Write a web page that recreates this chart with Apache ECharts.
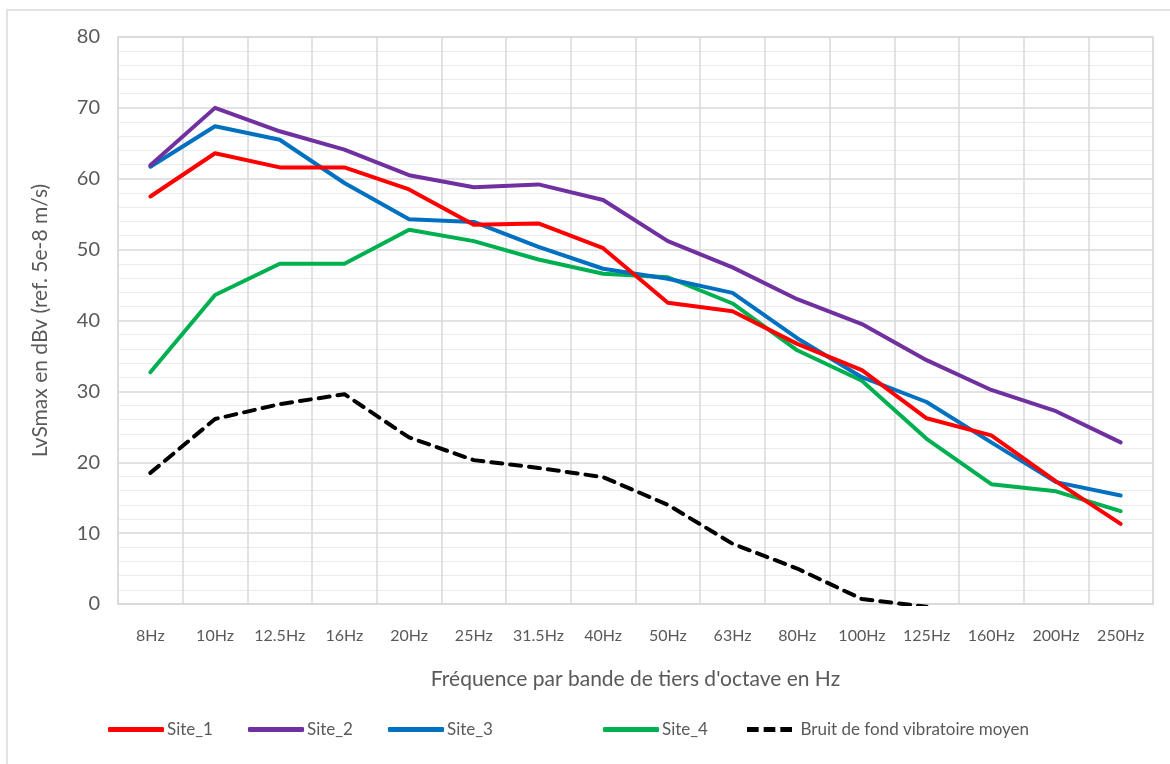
<!DOCTYPE html>
<html><head><meta charset="utf-8">
<script src="https://cdn.jsdelivr.net/npm/echarts@6/dist/echarts.min.js"></script>
<style>html,body{margin:0;padding:0;background:#fff}#c{width:1170px;height:764px}</style>
</head><body><div id="c"></div>
<script>
const categories = ["8Hz","10Hz","12.5Hz","16Hz","20Hz","25Hz","31.5Hz","40Hz","50Hz","63Hz","80Hz","100Hz","125Hz","160Hz","200Hz","250Hz"];
const site1 = [57.5,63.6,61.6,61.6,58.5,53.5,53.7,50.2,42.5,41.3,36.7,33.0,26.2,23.8,17.3,11.3];
const site2 = [61.9,70.0,66.7,64.1,60.5,58.8,59.2,57.0,51.2,47.5,43.0,39.5,34.4,30.2,27.2,22.8];
const site3 = [61.7,67.4,65.5,59.4,54.3,53.9,50.4,47.3,45.9,43.9,37.5,32.0,28.5,22.8,17.2,15.3];
const site4 = [32.7,43.6,48.0,48.0,52.8,51.2,48.6,46.6,46.1,42.4,35.8,31.5,23.3,16.9,15.9,13.1];
const bruit = [18.5,26.1,28.2,29.6,23.5,20.3,19.2,17.9,14.0,8.5,5.0,0.7,-0.4,null,null,null];
const seriesNames = ["Site_1","Site_2","Site_3","Site_4","Bruit de fond vibratoire moyen"];
const yTicks = {min:0,max:80,interval:10};

const FONT = "Lato";
const TXT = "#595959";
const colors = ["#FF0000","#7030A0","#0070C0","#00B050","#000000"];
const allData = [site1,site2,site3,site4,bruit];
const legendLeft = [103,243,383,598,742];

const chart = echarts.init(document.getElementById('c'));
const series = allData.map((d,i)=>({
  name: seriesNames[i], type:'line', data:d, symbol:'none', smooth:false,
  lineStyle:{color:colors[i], width:4, type: i===4?[11,8]:'solid', cap:'round', join:'round'},
  itemStyle:{color:colors[i]}, z: i===4?5:(i===0?4:3-i+1),
  clip:true
}));
chart.setOption({
  animation:false,
  textStyle:{fontFamily:FONT},
  graphic:[{type:'rect',shape:{x:7,y:10,width:1200,height:800},style:{fill:'none',stroke:'#d9d9d9',lineWidth:1.5},silent:true}],
  grid:{left:118,right:17,top:37,bottom:160,show:true,borderColor:'#d9d9d9',borderWidth:1.5},
  legend: seriesNames.map((n,i)=>({
    data:[{name:n, icon: i===4?'path://M0,0 L14,0 L14,6 L0,6 Z M20,0 L34,0 L34,6 L20,6 Z M40,0 L54,0 L54,6 L40,6 Z':'roundRect'}],
    left:legendLeft[i], top:716, itemWidth:56, itemHeight:5, itemGap:6,
    textStyle:{color:TXT,fontSize:17,fontFamily:FONT,padding:[0,0,0,-2]}
  })),
  xAxis:{type:'category',data:categories,boundaryGap:true,
    name:"Fréquence par bande de tiers d'octave en Hz",nameLocation:'middle',nameGap:65,
    nameTextStyle:{color:TXT,fontSize:21,fontFamily:FONT},
    axisLine:{show:true,lineStyle:{color:'#d9d9d9',width:1.5}},axisTick:{show:false},
    axisLabel:{color:TXT,fontSize:16,fontFamily:FONT,margin:24,interval:0},
    splitLine:{show:true,lineStyle:{color:'#d9d9d9',width:1.5}}
  },
  yAxis:{type:'value',min:yTicks.min,max:yTicks.max,interval:yTicks.interval,
    name:"LvSmax en dBv (ref. 5e-8 m/s)",nameLocation:'middle',nameGap:67,nameRotate:90,
    nameTextStyle:{color:TXT,fontSize:21,fontFamily:FONT},
    axisLine:{show:false},axisTick:{show:false},
    axisLabel:{color:TXT,fontSize:20,fontFamily:FONT,margin:18},
    splitLine:{show:true,lineStyle:{color:'#d9d9d9',width:1.5}},
    minorTick:{show:false,splitNumber:5},
    minorSplitLine:{show:true,lineStyle:{color:'#ebebeb',width:1}}
  },
  series:series
});
</script></body></html>
